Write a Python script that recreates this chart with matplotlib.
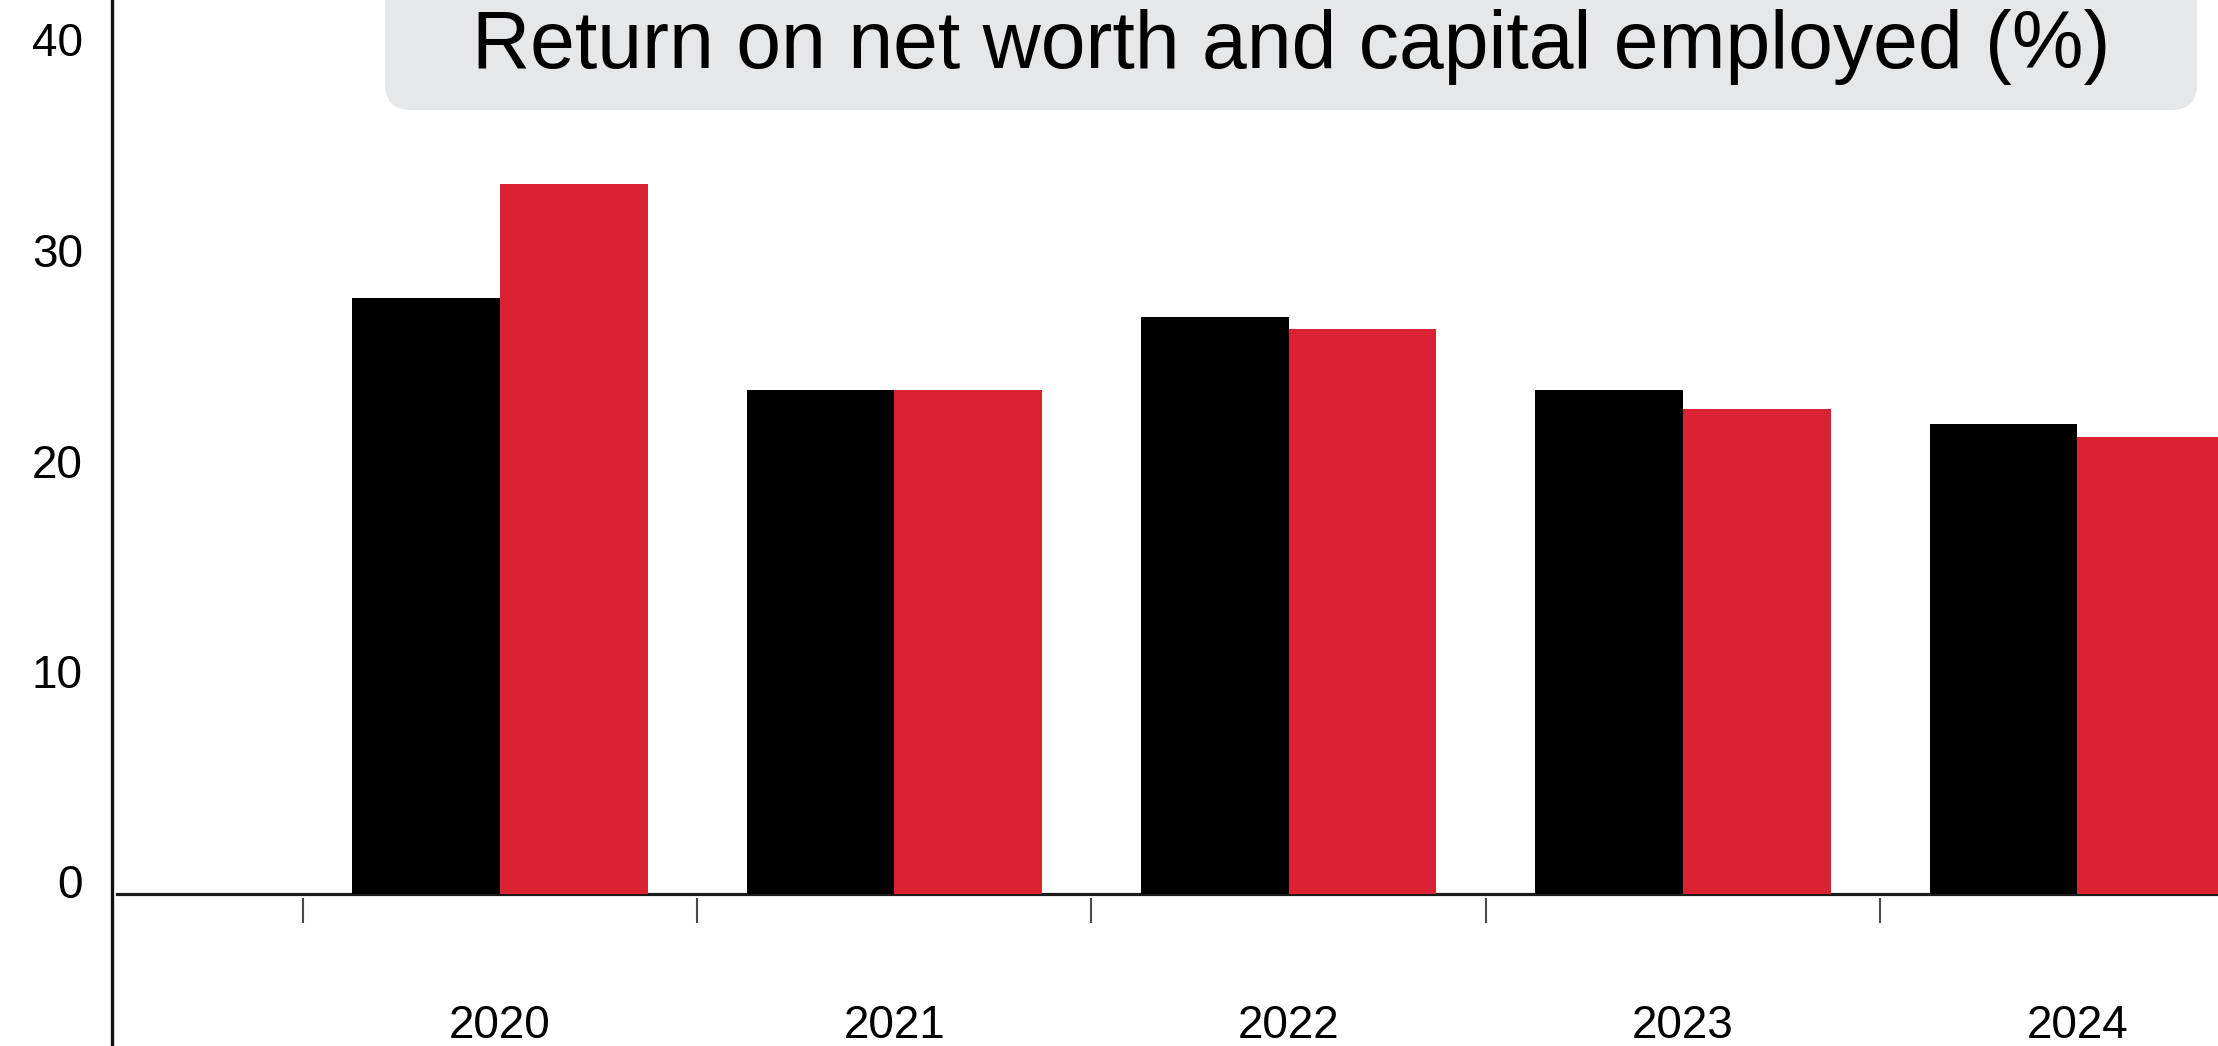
import matplotlib
matplotlib.use("Agg")
import matplotlib.pyplot as plt
from matplotlib.patches import FancyBboxPatch
from matplotlib.transforms import ScaledTranslation, IdentityTransform
import numpy as np

years = ["2020", "2021", "2022", "2023", "2024"]
return_on_net_worth = [28.3, 23.9, 27.4, 23.9, 22.3]
return_on_capital_employed = [33.7, 23.9, 26.8, 23.0, 21.7]
y_ticks = [0, 10, 20, 30, 40]
title = "Return on net worth and capital employed (%)"

RED = "#DA2233"
BLACK = "#000000"
BOX_GREY = "#E6E7E8"

W, H, DPI = 2218, 1046, 100
plt.rcParams["font.family"] = ["Liberation Sans", "DejaVu Sans"]

fig = plt.figure(figsize=(W / DPI, H / DPI), dpi=DPI)
fig.patch.set_facecolor("white")

left_px = 112
ax = fig.add_axes([left_px / W, 0, 1 - left_px / W, 1])
ax.set_facecolor("none")

x = np.arange(len(years))
bar_w = 0.3745
ax.bar(x - bar_w / 2, return_on_net_worth, width=bar_w, color=BLACK,
       zorder=3, antialiased=False, linewidth=0)
ax.bar(x + bar_w / 2, return_on_capital_employed, width=bar_w, color=RED,
       zorder=3, antialiased=False, linewidth=0)

# axis limits (10 units = 210.5 px, zero line at y=893.5 from the top)
px_per_unit = 21.05
zero_px = 893.5
ax.set_ylim(-(H - zero_px) / px_per_unit, zero_px / px_per_unit)
group_px = 394.3
first_center_px = 500
ax.set_xlim((left_px - first_center_px) / group_px, (W - first_center_px) / group_px)

# baseline
ax.axhline(0, xmin=5 / (W - left_px), xmax=1, color="#1a1a1a", lw=2.3, zorder=2)

# separators between year groups, just below the baseline
sep_x = x - 0.5
ax.vlines(sep_x, -(898 - zero_px) / px_per_unit, -(923 - zero_px) / px_per_unit,
          color="#4a4a4a", lw=1.5, zorder=2)

# year labels
for xi, lab in zip(x, years):
    ax.text(xi, -(1038 - zero_px) / px_per_unit, lab, ha="center", va="baseline",
            fontsize=33, color="black")

# spines / ticks
for s in ["top", "right", "bottom"]:
    ax.spines[s].set_visible(False)
ax.spines["left"].set_linewidth(2.4)
ax.spines["left"].set_color("#111111")
ax.set_xticks([])
ax.set_yticks(y_ticks)
ax.set_yticklabels([str(t) for t in y_ticks], fontsize=33)
ax.tick_params(axis="y", length=0, pad=21)
shift = ScaledTranslation(0, 12 / DPI, fig.dpi_scale_trans)
for lab in ax.get_yticklabels():
    lab.set_transform(lab.get_transform() + shift)

# title box
box = FancyBboxPatch((385, H - 110), 2197 - 385, 200,
                     boxstyle="round,pad=0,rounding_size=26",
                     transform=IdentityTransform(), facecolor=BOX_GREY,
                     edgecolor="none", zorder=5)
fig.patches.append(box)
fig.text(1291 / W, 1 - 68 / H, title, ha="center", va="baseline",
         fontsize=58, color="black", zorder=6)

fig.savefig("out.png", dpi=DPI)
